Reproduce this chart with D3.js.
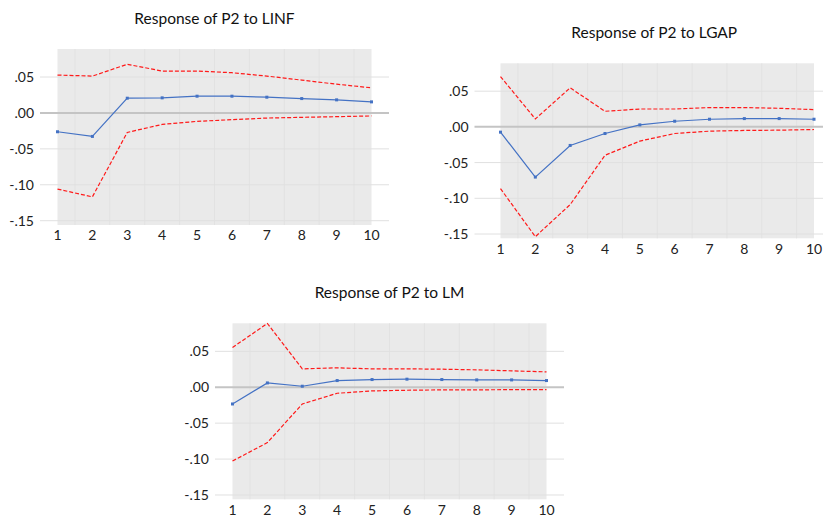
<!DOCTYPE html>
<html>
<head>
<meta charset="utf-8">
<script src="https://cdn.jsdelivr.net/npm/d3@7"></script>
<style>
  html, body { margin: 0; padding: 0; background: #ffffff; }
  svg { display: block; }
</style>
</head>
<body>
<svg id="chart" width="823" height="517"></svg>
<script>
// ---------------- DATA ----------------
const periods = [1, 2, 3, 4, 5, 6, 7, 8, 9, 10];
const yTicks = [0.05, 0.00, -0.05, -0.10, -0.15];
const yTickLabels = [".05", ".00", "-.05", "-.10", "-.15"];

const titles = ["Response of P2 to LINF", "Response of P2 to LGAP", "Response of P2 to LM"];

const linfResp  = [-0.0262, -0.0327, 0.0205, 0.0210, 0.0233, 0.0233, 0.0219, 0.0200, 0.0182, 0.0154];
const linfUpper = [0.0527, 0.0513, 0.0677, 0.0583, 0.0583, 0.0560, 0.0513, 0.0457, 0.0400, 0.0350];
const linfLower = [-0.1060, -0.1168, -0.0271, -0.0160, -0.0117, -0.0094, -0.0071, -0.0061, -0.0052, -0.0042];

const lgapResp  = [-0.0074, -0.0703, -0.0260, -0.0093, 0.0028, 0.0079, 0.0107, 0.0116, 0.0116, 0.0107];
const lgapUpper = [0.0704, 0.0111, 0.0547, 0.0218, 0.0250, 0.0250, 0.0270, 0.0270, 0.0260, 0.0241];
const lgapLower = [-0.0865, -0.1537, -0.1088, -0.0398, -0.0199, -0.0093, -0.0060, -0.0050, -0.0046, -0.0037];

const lmResp  = [-0.0233, 0.0060, 0.0014, 0.0093, 0.0107, 0.0112, 0.0107, 0.0102, 0.0102, 0.0093];
const lmUpper = [0.0553, 0.0888, 0.0256, 0.0270, 0.0256, 0.0256, 0.0251, 0.0242, 0.0228, 0.0214];
const lmLower = [-0.1027, -0.0771, -0.0233, -0.0084, -0.0051, -0.0042, -0.0037, -0.0037, -0.0033, -0.0033];

const yDomain = [-0.156, 0.089];

// ---------------- LAYOUT ----------------
const panels = [
  { title: titles[0], resp: linfResp, upper: linfUpper, lower: linfLower,
    x0: 57.5, x1: 371.5, top: 49, bottom: 225, titleY: 24, extL: 17.5, extR: 17.5, titleDx: 0 },
  { title: titles[1], resp: lgapResp, upper: lgapUpper, lower: lgapLower,
    x0: 500.5, x1: 814, top: 63.3, bottom: 238.3, titleY: 38, extL: 26, extR: 17.5, titleDx: -3 },
  { title: titles[2], resp: lmResp, upper: lmUpper, lower: lmLower,
    x0: 232.5, x1: 546.5, top: 323.3, bottom: 499.3, titleY: 298, extL: 17.5, extR: 17.5, titleDx: 0 }
];

const svg = d3.select("#chart");
const fontFam = "Lato, 'Open Sans', sans-serif";

panels.forEach(p => {
  const x = d3.scaleLinear().domain([1, 10]).range([p.x0, p.x1]);
  const y = d3.scaleLinear().domain(yDomain).range([p.bottom, p.top]);
  const g = svg.append("g");

  // background
  g.append("rect")
    .attr("x", p.x0).attr("y", p.top)
    .attr("width", p.x1 - p.x0).attr("height", p.bottom - p.top)
    .attr("fill", "#eaeaea");

  // faint vertical lines at midpoints
  const mids = periods.slice(0, -1).map(d => d + 0.5);
  g.selectAll(".vgrid").data(mids).enter().append("line")
    .attr("x1", d => x(d)).attr("x2", d => x(d))
    .attr("y1", p.top).attr("y2", p.bottom)
    .attr("stroke", "#e2e2e2").attr("stroke-width", 1);

  // horizontal gridlines
  g.selectAll(".hgrid").data(yTicks.filter(t => t !== 0)).enter().append("line")
    .attr("x1", p.x0 - p.extL).attr("x2", p.x1 + p.extR)
    .attr("y1", d => y(d)).attr("y2", d => y(d))
    .attr("stroke", "#e0e0e0").attr("stroke-width", 1);

  // zero line
  g.append("line")
    .attr("x1", p.x0 - p.extL).attr("x2", p.x1 + p.extR)
    .attr("y1", y(0)).attr("y2", y(0))
    .attr("stroke", "#c4c4c4").attr("stroke-width", 2);

  // y tick labels
  g.selectAll(".ylab").data(yTicks).enter().append("text")
    .attr("x", p.x0 - p.extL - 6)
    .attr("y", d => y(d))
    .attr("dy", "0.36em")
    .attr("text-anchor", "end")
    .attr("font-family", fontFam)
    .attr("font-size", 14)
    .attr("fill", "#222")
    .text((d, i) => yTickLabels[i]);

  // x tick labels
  g.selectAll(".xlab").data(periods).enter().append("text")
    .attr("x", d => x(d))
    .attr("y", p.bottom + 10.3)
    .attr("dy", "0.36em")
    .attr("text-anchor", "middle")
    .attr("font-family", fontFam)
    .attr("font-size", 14)
    .attr("fill", "#222")
    .text(d => d);

  // title
  g.append("text")
    .attr("x", (p.x0 + p.x1) / 2 + p.titleDx)
    .attr("y", p.titleY)
    .attr("text-anchor", "middle")
    .attr("font-family", fontFam)
    .attr("font-size", 15.5)
    .attr("fill", "#111")
    .text(p.title);

  const line = d3.line().x((d, i) => x(periods[i])).y(d => y(d));

  // bands
  [p.upper, p.lower].forEach(arr => {
    g.append("path").datum(arr)
      .attr("d", line)
      .attr("fill", "none")
      .attr("stroke", "#ff1a1a")
      .attr("stroke-width", 1.2)
      .attr("stroke-dasharray", "4,2");
  });

  // response
  g.append("path").datum(p.resp)
    .attr("d", line)
    .attr("fill", "none")
    .attr("stroke", "#4472c4")
    .attr("stroke-width", 1.2);

  g.selectAll(".mk").data(p.resp).enter().append("rect")
    .attr("x", (d, i) => x(periods[i]) - 1.5)
    .attr("y", d => y(d) - 1.5)
    .attr("width", 3).attr("height", 3)
    .attr("fill", "#4472c4");
});
</script>
</body>
</html>
